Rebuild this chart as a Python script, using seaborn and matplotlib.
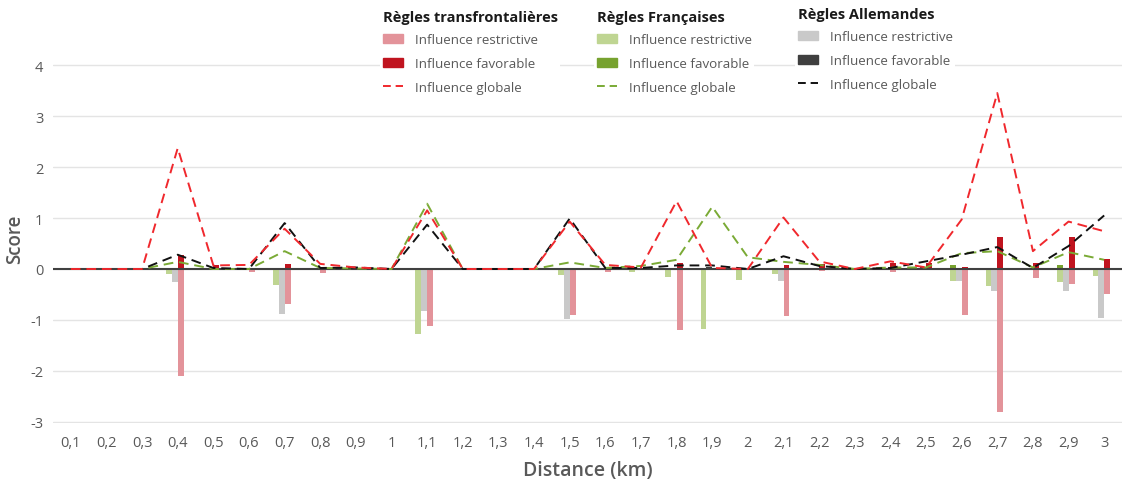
import numpy as np
import pandas as pd
import matplotlib
matplotlib.use("Agg")
import matplotlib.pyplot as plt
from matplotlib.patches import Patch
from matplotlib.lines import Line2D
import seaborn as sns

# ---------------- data ----------------
distances = ["0,1", "0,2", "0,3", "0,4", "0,5", "0,6", "0,7", "0,8", "0,9", "1",
             "1,1", "1,2", "1,3", "1,4", "1,5", "1,6", "1,7", "1,8", "1,9", "2",
             "2,1", "2,2", "2,3", "2,4", "2,5", "2,6", "2,7", "2,8", "2,9", "3"]

# Règles transfrontalières
tf_restrictive = [0, 0, 0, -2.10, 0, -0.05, -0.69, -0.08, 0, 0,
                  -1.12, 0, 0, 0, -0.90, -0.05, 0, -1.19, 0, 0,
                  -0.93, -0.04, 0, -0.05, 0, -0.91, -2.80, -0.18, -0.29, -0.50]
tf_favorable = [0, 0, 0, 0.28, 0.08, 0, 0.10, 0, 0, 0,
                0, 0, 0, 0, 0, 0, 0, 0.12, 0, 0,
                0.08, 0.10, 0, 0.12, 0.12, 0.03, 0.62, 0.12, 0.62, 0.20]
tf_global = [0, 0, 0, 2.37, 0.07, 0.08, 0.79, 0.10, 0.03, 0,
             1.15, 0, 0, 0, 0.93, 0.08, 0.03, 1.33, 0.02, 0,
             1.01, 0.15, 0, 0.15, 0.03, 0.97, 3.45, 0.35, 0.93, 0.74]

# Règles Françaises
fr_restrictive = [0, 0, 0, -0.10, 0, 0, -0.32, 0, 0, 0,
                  -1.27, 0, 0, 0, -0.11, 0, -0.05, -0.16, -1.18, -0.21,
                  -0.10, 0, 0, 0, 0, -0.23, -0.33, 0, -0.26, -0.14]
fr_favorable = [0, 0, 0, 0, 0, 0, 0, 0, 0, 0,
                0, 0, 0, 0, 0, 0, 0, 0, 0, 0,
                0, 0, 0, 0, 0, 0.08, 0, 0.01, 0.07, 0]
fr_global = [0, 0, 0, 0.14, 0, 0, 0.35, 0.02, 0.01, 0,
             1.28, 0, 0, 0, 0.13, 0.02, 0.06, 0.18, 1.22, 0.23,
             0.14, 0.08, 0, 0.03, 0.03, 0.31, 0.35, 0.03, 0.33, 0.18]

# Règles Allemandes
de_restrictive = [0, 0, 0, -0.26, 0, 0, -0.88, 0, 0, 0,
                  -0.83, 0, 0, 0, -0.98, 0, 0, -0.02, 0, 0,
                  -0.23, 0, 0, 0, 0, -0.24, -0.44, 0, -0.44, -0.97]
de_favorable = [0, 0, 0, 0, 0, 0, 0, 0, 0, 0,
                0, 0, 0, 0, 0, 0, 0, 0, 0.03, 0,
                0, 0, 0, 0, 0.03, 0, 0, 0, 0, 0]
de_global = [0, 0, 0, 0.28, 0.02, 0, 0.90, 0.02, 0.03, 0,
             0.87, 0, 0, 0, 0.99, 0.02, 0.02, 0.07, 0.07, 0,
             0.25, 0.06, 0, 0.02, 0.15, 0.28, 0.43, 0.02, 0.45, 1.05]

# ---------------- style ----------------
sns.set_theme(style="white")
plt.rcParams["font.family"] = ["Open Sans", "DejaVu Sans"]
plt.rcParams["axes.unicode_minus"] = False

C_TF_R, C_TF_F, C_TF_G = "#E3939A", "#C0141F", "#F0282D"
C_FR_R, C_FR_F, C_FR_G = "#BFD592", "#77A22F", "#7AAA35"
C_DE_R, C_DE_F, C_DE_G = "#C9C9C9", "#3F3F3F", "#111111"
TXT = "#595959"

fig = plt.figure(figsize=(11.25, 4.85), dpi=100)
ax = fig.add_axes([53 / 1125, 1 - 424 / 485, (1122 - 53) / 1125, (424 - 65) / 485])

idx = np.arange(len(distances))
bw = 0.165
groups = [
    (fr_restrictive, fr_favorable, -0.245, C_FR_R, C_FR_F),
    (de_restrictive, de_favorable, -0.08, C_DE_R, C_DE_F),
    (tf_restrictive, tf_favorable, 0.085, C_TF_R, C_TF_F),
]
for restr, fav, off, cr, cf in groups:
    for vals, col in ((restr, cr), (fav, cf)):
        sns.barplot(x=idx + off, y=vals, native_scale=True, width=bw,
                    color=col, saturation=1, errorbar=None, ax=ax,
                    linewidth=0, zorder=2)

ax.axhline(0, color="#404040", lw=1.5, zorder=3)

for vals, col in ((fr_global, C_FR_G), (de_global, C_DE_G), (tf_global, C_TF_G)):
    sns.lineplot(x=idx, y=vals, ax=ax, color=col, lw=1.4,
                 linestyle=(0, (5, 3)), zorder=4)

ax.set_xlim(-0.5, len(distances) - 0.5)
ax.set_ylim(-3.02, 4.02)
ax.set_yticks(range(-3, 5))
ax.set_xticks(idx)
ax.set_xticklabels(distances)
ax.grid(axis="y", color="#E4E4E4", lw=1)
ax.set_axisbelow(True)
for s in ax.spines.values():
    s.set_visible(False)
ax.tick_params(axis="both", length=0, labelsize=10.5, colors=TXT)
ax.tick_params(axis="x", pad=9)
ax.tick_params(axis="y", pad=7)
ax.set_xlabel("Distance (km)", fontsize=14, color=TXT, fontweight="semibold", labelpad=7)
ax.set_ylabel("Score", fontsize=13.5, color=TXT, fontweight="semibold")
ax.yaxis.set_label_coords(-0.026, 0.515)

# ---------------- legends ----------------
def make_legend(title, cr, cf, cg, x, y):
    handles = [Patch(color=cr), Patch(color=cf),
               Line2D([], [], color=cg, lw=1.4, linestyle=(0, (4, 2.5)))]
    labels = ["Influence restrictive", "Influence favorable", "Influence globale"]
    leg = fig.legend(handles, labels, title=title, loc="upper left",
                     bbox_to_anchor=(x, y), frameon=True, facecolor="white",
                     edgecolor="none", framealpha=1, fontsize=9.6,
                     labelcolor=TXT, handlelength=1.55, handleheight=0.7,
                     handletextpad=0.85, labelspacing=0.8, borderpad=0.2,
                     borderaxespad=0)
    leg.get_title().set_fontweight("bold")
    leg.get_title().set_fontsize(10.5)
    leg.get_title().set_color("#1a1a1a")
    leg._legend_box.align = "left"
    leg._legend_box.sep = 7
    return leg

make_legend("Règles transfrontalières", C_TF_R, C_TF_F, C_TF_G, 380 / 1125, 1 - 8 / 485)
make_legend("Règles Françaises", C_FR_R, C_FR_F, C_FR_G, 594 / 1125, 1 - 8 / 485)
make_legend("Règles Allemandes", C_DE_R, C_DE_F, C_DE_G, 795 / 1125, 1 - 5 / 485)

fig.savefig("out.png", dpi=100, facecolor="white")
